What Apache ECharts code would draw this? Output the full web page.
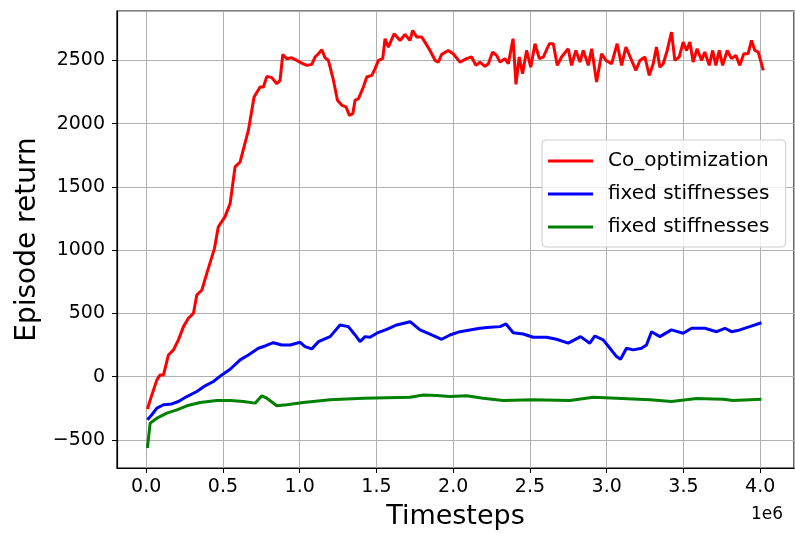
<!DOCTYPE html>
<html>
<head>
<meta charset="utf-8">
<script src="https://cdn.jsdelivr.net/npm/echarts@6/dist/echarts.min.js"></script>
<style>html,body{margin:0;padding:0;background:#fff}#c{width:795px;height:536px}</style>
</head>
<body>
<div id="c"></div>
<script>
// x values in units of 1e6 timesteps
const seriesNames = ['Co_optimization', 'fixed stiffnesses', 'fixed stiffnesses'];
const redX = [0.008,0.037,0.07,0.091,0.113,0.145,0.178,0.21,0.243,0.275,0.308,0.33,0.363,0.395,0.428,0.445,0.47,0.513,0.547,0.579,0.612,0.666,0.703,0.742,0.764,0.786,0.818,0.851,0.872,0.89,0.916,0.948,0.981,1.013,1.046,1.079,1.1,1.122,1.144,1.165,1.187,1.22,1.246,1.275,1.302,1.324,1.346,1.361,1.383,1.415,1.437,1.47,1.491,1.513,1.541,1.556,1.578,1.615,1.654,1.686,1.719,1.736,1.762,1.795,1.816,1.849,1.882,1.903,1.925,1.968,2.0,2.044,2.087,2.12,2.148,2.174,2.207,2.229,2.257,2.283,2.305,2.337,2.359,2.39,2.409,2.43,2.452,2.478,2.505,2.533,2.561,2.587,2.626,2.652,2.678,2.706,2.749,2.771,2.799,2.826,2.847,2.88,2.902,2.934,2.967,2.995,3.032,3.068,3.097,3.125,3.162,3.19,3.216,3.249,3.277,3.303,3.324,3.346,3.368,3.394,3.422,3.444,3.472,3.498,3.52,3.542,3.563,3.589,3.618,3.639,3.668,3.69,3.711,3.733,3.755,3.785,3.813,3.841,3.867,3.893,3.921,3.943,3.965,3.987,4.02];
const redY = [-257,-145,-26,13,13,171,211,290,395,461,500,645,685,816,947,1014,1184,1263,1369,1658,1697,1948,2211,2290,2290,2374,2364,2316,2342,2547,2514,2521,2500,2479,2461,2469,2527,2553,2585,2521,2500,2342,2185,2145,2132,2066,2079,2185,2198,2290,2369,2382,2435,2500,2514,2672,2605,2711,2658,2706,2658,2737,2685,2685,2645,2579,2500,2487,2548,2579,2553,2487,2514,2527,2461,2487,2453,2474,2566,2540,2487,2514,2474,2672,2311,2527,2395,2579,2447,2632,2514,2527,2632,2632,2461,2527,2593,2461,2579,2487,2579,2461,2593,2329,2553,2500,2474,2632,2461,2606,2500,2421,2500,2527,2382,2474,2606,2447,2474,2579,2724,2500,2527,2645,2579,2645,2487,2593,2500,2566,2461,2579,2461,2579,2461,2579,2514,2540,2461,2553,2553,2658,2579,2566,2421];
const blueX = [0.008,0.037,0.07,0.113,0.167,0.21,0.265,0.33,0.384,0.438,0.493,0.547,0.612,0.666,0.731,0.775,0.829,0.883,0.938,1.003,1.035,1.079,1.122,1.198,1.263,1.317,1.361,1.393,1.426,1.458,1.502,1.567,1.632,1.719,1.784,1.86,1.925,1.979,2.044,2.109,2.174,2.24,2.305,2.344,2.391,2.456,2.521,2.608,2.673,2.749,2.83,2.89,2.923,2.977,3.021,3.064,3.09,3.129,3.172,3.227,3.259,3.292,3.346,3.422,3.498,3.553,3.639,3.716,3.77,3.813,3.867,3.932,4.008];
const blueY = [-342,-302,-250,-223,-216,-197,-158,-118,-73,-39,13,58,132,171,224,242,268,250,250,271,237,219,276,316,408,395,329,276,316,311,343,374,408,434,369,329,295,329,355,369,382,390,395,416,347,337,311,311,295,264,316,264,321,290,224,158,137,224,211,224,250,355,316,369,343,382,382,355,382,355,369,395,426];
const greenX = [0.008,0.026,0.07,0.135,0.2,0.265,0.352,0.46,0.547,0.633,0.71,0.753,0.786,0.851,0.916,1.024,1.198,1.415,1.719,1.806,1.892,1.979,2.087,2.195,2.326,2.521,2.76,2.912,3.064,3.281,3.422,3.585,3.759,3.824,4.008];
const greenY = [-565,-368,-329,-289,-263,-231,-205,-189,-189,-197,-210,-152,-171,-231,-223,-205,-184,-171,-163,-145,-150,-158,-152,-171,-189,-184,-189,-163,-171,-184,-197,-174,-179,-189,-179];
const colors = ['#ff0000', '#0000ff', '#008000'];

const pairs = (xs, ys) => xs.map((x, i) => [x, ys[i]]);
const FONT = 'DejaVu Sans';

const chart = echarts.init(document.getElementById('c'), null, {renderer: 'canvas'});
chart.setOption({
  backgroundColor: '#ffffff',
  animation: false,
  textStyle: {fontFamily: FONT},
  grid: {left: 117, right: 1, top: 11, bottom: 68, show: true, borderColor: '#000', borderWidth: 1.2, backgroundColor: 'transparent'},
  legend: {
    orient: 'vertical', left: 542, top: 140,
    padding: [11, 10, 10, 6],
    itemWidth: 45, itemHeight: 3, itemGap: 13,
    icon: 'rect',
    backgroundColor: 'rgba(255,255,255,0.8)', borderColor: '#cccccc', borderWidth: 1, borderRadius: 4,
    textStyle: {fontFamily: FONT, fontSize: 20, color: '#000', padding: [0, 0, 0, 10]},
    data: [{name: seriesNames[0]}, {name: seriesNames[1]}, {name: seriesNames[2] + ' '}]
  },
  xAxis: {
    type: 'value', min: -0.19, max: 4.22, splitNumber: 9,
    name: 'Timesteps', nameLocation: 'middle', nameGap: 35,
    nameTextStyle: {fontFamily: FONT, fontSize: 27, color: '#000'},
    axisLine: {show: true, onZero: false, lineStyle: {color: '#000', width: 1.2}},
    axisTick: {show: true, inside: false, length: 5, lineStyle: {color: '#000'}},
    axisLabel: {fontFamily: FONT, fontSize: 19, color: '#000', margin: 10, showMinLabel: false, showMaxLabel: false,
      formatter: v => v.toFixed(1)},
    splitLine: {show: true, lineStyle: {color: '#b0b0b0', width: 1}}
  },
  yAxis: {
    type: 'value', min: -723, max: 2891, splitNumber: 7,
    name: 'Episode return', nameLocation: 'middle', nameGap: 75,
    nameTextStyle: {fontFamily: FONT, fontSize: 28, color: '#000'},
    axisLine: {show: true, onZero: false, lineStyle: {color: '#000', width: 1.2}},
    axisTick: {show: true, inside: false, length: 5, lineStyle: {color: '#000'}},
    axisLabel: {fontFamily: FONT, fontSize: 19, color: '#000', margin: 12, showMinLabel: false, showMaxLabel: false,
      formatter: v => v < 0 ? '\u2212' + Math.abs(v) : String(v)},
    splitLine: {show: true, lineStyle: {color: '#b0b0b0', width: 1}}
  },
  graphic: [{type: 'text', left: 751, top: 506, style: {text: '1e6', font: '17px "DejaVu Sans"', fill: '#000'}}],
  series: [
    {name: seriesNames[0], type: 'line', data: pairs(redX, redY), showSymbol: false, color: colors[0], lineStyle: {width: 3, color: colors[0]}},
    {name: seriesNames[1], type: 'line', data: pairs(blueX, blueY), showSymbol: false, color: colors[1], lineStyle: {width: 3, color: colors[1]}},
    {name: seriesNames[2] + ' ', type: 'line', data: pairs(greenX, greenY), showSymbol: false, color: colors[2], lineStyle: {width: 3, color: colors[2]}}
  ]
});
</script>
</body>
</html>
